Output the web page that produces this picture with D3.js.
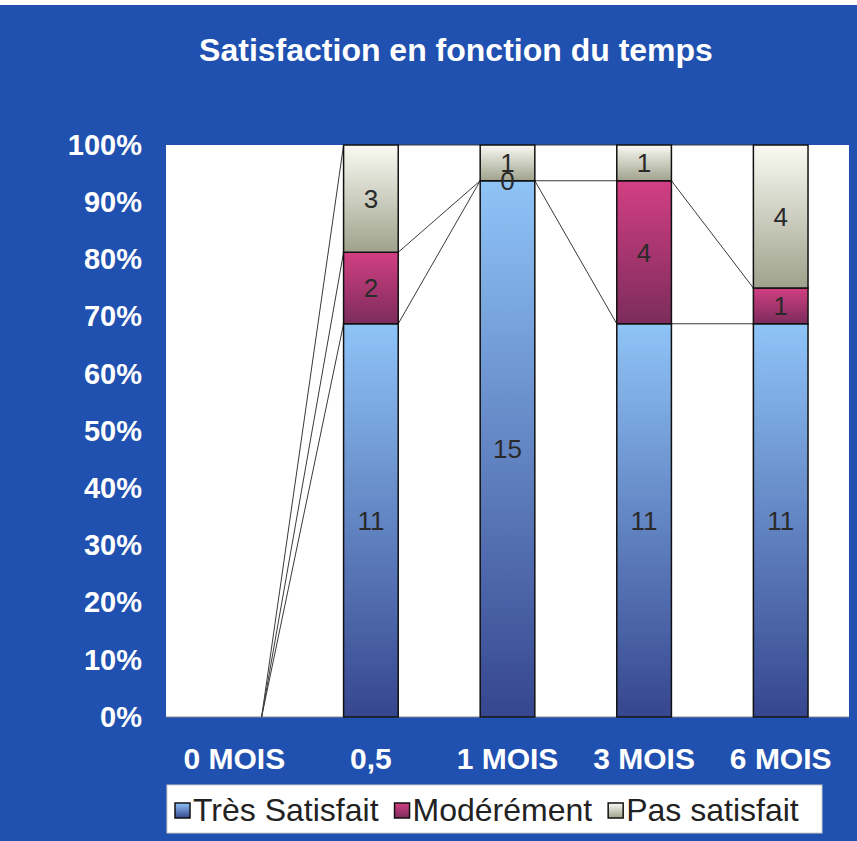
<!DOCTYPE html>
<html>
<head>
<meta charset="utf-8">
<script src="https://cdn.jsdelivr.net/npm/d3@7"></script>
<style>
  body { margin: 0; background: #fff; }
  text { font-family: "Liberation Sans", Arial, sans-serif; }
</style>
</head>
<body>
<svg width="857" height="841"></svg>
<script>
// categories and counts per satisfaction level
const categories = ["0 MOIS", "0,5", "1 MOIS", "3 MOIS", "6 MOIS"];
const seriesNames = ["Très Satisfait", "Modérément", "Pas satisfait"];
const tresSatisfait = [0, 11, 15, 11, 11];
const moderement = [0, 2, 0, 4, 1];
const pasSatisfait = [0, 3, 1, 1, 4];
const yTicks = [0, 0.1, 0.2, 0.3, 0.4, 0.5, 0.6, 0.7, 0.8, 0.9, 1];

const w = 857, h = 841;
var margin = {top: 145, right: 8, bottom: 124, left: 166},
    width = w - margin.left - margin.right,
    height = h - margin.top - margin.bottom;

var svg = d3.select("svg");

// blue page background
svg.append("rect").attr("width", w).attr("height", h).attr("fill", "#fff");
svg.append("rect").attr("y", 5).attr("width", w).attr("height", h - 5).attr("fill", "#2151b0");

svg.append("text")
    .attr("x", 456).attr("y", 61)
    .attr("text-anchor", "middle")
    .attr("fill", "#fff")
    .style("font-size", "32px").style("font-weight", "bold")
    .text("Satisfaction en fonction du temps");

// gradients, light at the top, dark at the bottom
var grads = [["#8fc4f7", "#36468f"], ["#d23f82", "#7c2c5c"], ["#fafaf3", "#9fa28c"]];
var defs = svg.append("defs");
grads.forEach(function(c, i) {
    var gr = defs.append("linearGradient").attr("id", "g" + i)
        .attr("x1", 0).attr("y1", 0).attr("x2", 0).attr("y2", 1);
    gr.append("stop").attr("offset", "0%").attr("stop-color", c[0]);
    gr.append("stop").attr("offset", "100%").attr("stop-color", c[1]);
});

var g = svg.append("g")
    .attr("transform", "translate(" + margin.left + "," + margin.top + ")");

g.append("rect").attr("width", width).attr("height", height).attr("fill", "#fff");
g.append("line").attr("x1", 0).attr("x2", width).attr("y1", height).attr("y2", height)
    .attr("stroke", "#888").attr("stroke-width", 1);

var x = d3.scaleBand().domain(categories).range([0, width]).paddingInner(0.6).paddingOuter(0.3);
var y = d3.scaleLinear().domain([0, 1]).range([height, 0]);

// build the stacked shares
var rows = categories.map(function(c, i) {
    return {cat: c, total: tresSatisfait[i] + moderement[i] + pasSatisfait[i],
        "Très Satisfait": tresSatisfait[i], "Modérément": moderement[i], "Pas satisfait": pasSatisfait[i]};
});
var stack = d3.stack().keys(seriesNames).offset(d3.stackOffsetExpand);
var series = stack(rows);

// series lines between bars
series.forEach(function(s) {
    var b = s.map(function(d) { return isNaN(d[1]) ? 0 : d[1]; });
    for (var i = 0; i < categories.length - 1; i++) {
        g.append("line")
            .attr("x1", x(categories[i]) + x.bandwidth())
            .attr("x2", x(categories[i + 1]))
            .attr("y1", y(b[i]))
            .attr("y2", y(b[i + 1]))
            .attr("stroke", "#3a3a3a").attr("stroke-width", 1);
    }
});

var shown = function(d) { return d.data.total > 0; };

series.forEach(function(s, si) {
    g.append("g").selectAll("rect")
        .data(s.filter(shown))
        .enter().append("rect")
        .attr("x", function(d) { return x(d.data.cat); })
        .attr("y", function(d) { return y(d[1]); })
        .attr("width", x.bandwidth())
        .attr("height", function(d) { return y(d[0]) - y(d[1]); })
        .attr("fill", "url(#g" + si + ")")
        .attr("stroke", "#111").attr("stroke-width", 1.5);
});

// value labels
series.forEach(function(s, si) {
    g.append("g").selectAll("text")
        .data(s.filter(shown))
        .enter().append("text")
        .attr("x", function(d) { return x(d.data.cat) + x.bandwidth() / 2; })
        .attr("y", function(d) { return y((d[0] + d[1]) / 2); })
        .attr("dy", "0.36em")
        .attr("text-anchor", "middle")
        .attr("fill", "#2a2a2a")
        .style("font-size", "26px")
        .text(function(d) { return d.data[s.key]; });
});

// axes
var yAxis = d3.axisLeft(y).tickValues(yTicks).tickFormat(d3.format(".0%")).tickSize(0).tickPadding(24);
var xAxis = d3.axisBottom(x).tickSize(0).tickPadding(31);

var ya = g.append("g").call(yAxis);
var xa = g.append("g").attr("transform", "translate(0," + height + ")").call(xAxis);
[ya, xa].forEach(function(a) {
    a.select(".domain").remove();
    a.selectAll("text").attr("fill", "#fff")
        .style("font-family", "'Liberation Sans', Arial, sans-serif")
        .style("font-weight", "bold");
});
ya.selectAll("text").style("font-size", "29px");
xa.selectAll("text").style("font-size", "30px");

// legend
var leg = svg.append("g");
leg.append("rect").attr("x", 167).attr("y", 785).attr("width", 655).attr("height", 48)
    .attr("fill", "#fff").attr("stroke", "#ccc");
var lx = 175;
seriesNames.forEach(function(n, i) {
    leg.append("rect").attr("x", lx).attr("y", 803).attr("width", 15).attr("height", 15)
        .attr("fill", "url(#g" + i + ")").attr("stroke", "#111").attr("stroke-width", 1.5);
    var t = leg.append("text").attr("x", lx + 18).attr("y", 821)
        .attr("fill", "#222").style("font-size", "32px").text(n);
    lx += 18 + t.node().getComputedTextLength() + 16;
});
</script>
</body>
</html>
